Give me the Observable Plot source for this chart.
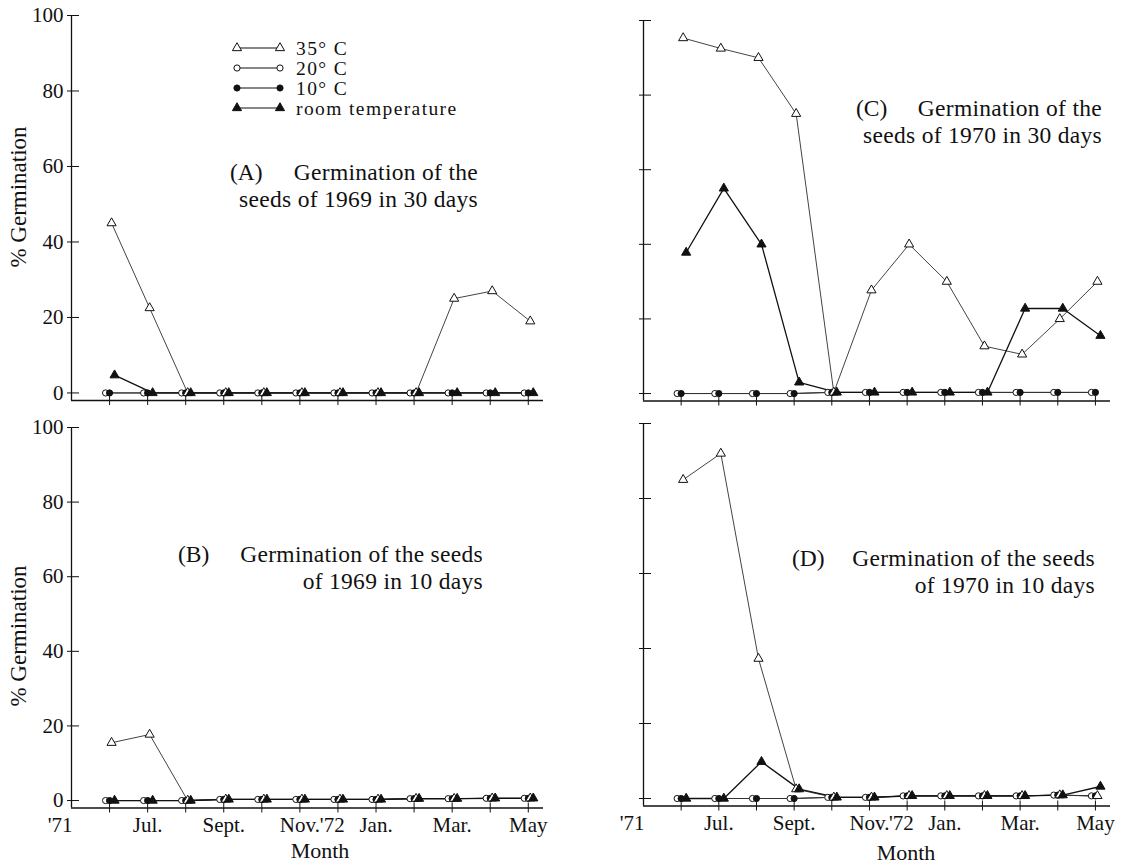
<!DOCTYPE html>
<html><head><meta charset="utf-8">
<script src="https://cdn.jsdelivr.net/npm/d3@7"></script>
<script src="https://cdn.jsdelivr.net/npm/@observablehq/plot@0.6"></script>
<style>
body{margin:0;background:#fff;}
#wrap{position:relative;width:1123px;height:865px;overflow:hidden;background:#fff;font-family:"Liberation Serif","Times New Roman",serif;}
.panel{position:absolute;}
#overlay{position:absolute;left:0;top:0;}
</style></head><body><div id="wrap"></div>
<script>
// Months: 1 = June '71 ... 12 = May '72 (0 = May '71 at the y axis)
const months = [1,2,3,4,5,6,7,8,9,10,11,12];
const tickLabels = ["'71","Jul.","Sept.","Nov.","'72","Jan.","Mar.","May"];
const tickLabelPos = [-0.3,2,4,6,6.85,8,10,12];
const yTicks = [0,20,40,60,80,100];
const seriesNames = ["35\u00B0 C","20\u00B0 C","10\u00B0 C","room temperature"];

// (A) seeds of 1969, 30 days
const a35  = [45, 22.5, 0, 0, 0, 0, 0, 0, 0, 25, 27, 19];
const a20  = [0, 0, 0, 0, 0, 0, 0, 0, 0, 0, 0, 0];
const a10  = [0, 0, 0, 0, 0, 0, 0, 0, 0, 0, 0, 0];
const aRoom= [4.7, 0, 0, 0, 0, 0, 0, 0, 0, 0, 0, 0];
// (B) seeds of 1969, 10 days
const b35  = [15.5, 17.7, 0, 0.3, 0.3, 0.3, 0.3, 0.3, 0.5, 0.5, 0.6, 0.6];
const b20  = [0, 0, 0, 0.3, 0.3, 0.3, 0.3, 0.3, 0.5, 0.5, 0.6, 0.6];
const b10  = [0, 0, 0, 0.3, 0.3, 0.3, 0.3, 0.3, 0.5, 0.5, 0.6, 0.6];
const bRoom= [0, 0, 0, 0.3, 0.3, 0.3, 0.3, 0.3, 0.5, 0.5, 0.6, 0.6];
// (C) seeds of 1970, 30 days
const c35  = [95.3, 92.5, 90, 75, 0.3, 27.7, 40, 30, 12.7, 10.5, 20, 30];
const c20  = [0, 0, 0, 0, 0.3, 0.3, 0.3, 0.3, 0.3, 0.3, 0.3, 0.3];
const c10  = [0, 0, 0, 0, 0.3, 0.3, 0.3, 0.3, 0.3, 0.3, 0.3, 0.3];
const cRoom= [37.8, 55, 40, 3, 0.3, 0.3, 0.3, 0.3, 0.3, 22.8, 22.8, 15.5];
// (D) seeds of 1970, 10 days
const d35  = [85, 92, 37.3, 2.5, 0.3, 0.3, 0.7, 0.7, 0.7, 0.7, 0.9, 0.7];
const d20  = [0, 0, 0, 0, 0.3, 0.3, 0.7, 0.7, 0.7, 0.7, 0.9, 0.7];
const d10  = [0, 0, 0, 0, 0.3, 0.3, 0.7, 0.7, 0.7, 0.7, 0.9, 0.7];
const dRoom= [0, 0, 9.8, 2.5, 0.3, 0.3, 0.7, 0.7, 0.7, 0.7, 0.9, 3.2];

const styles = [
  {key:"t35", symbol:"triangle", fill:"#fff", r:3.4, dx:2, line:"#444", lw:1},
  {key:"t20", symbol:"circle", fill:"#fff", r:3.1, dx:-4, line:"#333", lw:1},
  {key:"t10", symbol:"circle", fill:"#111", r:3.1, dx:0, line:"#333", lw:1},
  {key:"room", symbol:"triangle", fill:"#111", r:3.4, dx:5, line:"#111", lw:1.3}
];

const yMin = -2, xMin = 0, xMax = 12.4;
const font = '"Liberation Serif","Times New Roman",serif';

const panels = [
  {left:0, top:0, width:560, height:420, mt:15, mb:20, ml:71, mr:17, yLabels:true, xLabels:false,
   data:{t35:a35,t20:a20,t10:a10,room:aRoom}},
  {left:0, top:412, width:560, height:453, mt:15, mb:57.5, ml:71, mr:17, yLabels:true, xLabels:true,
   data:{t35:b35,t20:b20,t10:b10,room:bRoom}},
  {left:573, top:0, width:550, height:420, mt:20, mb:19.5, ml:70, mr:13, yLabels:false, xLabels:false,
   data:{t35:c35,t20:c20,t10:c10,room:cRoom}},
  {left:573, top:412, width:550, height:453, mt:11, mb:59.5, ml:70, mr:13, yLabels:false, xLabels:true,
   data:{t35:d35,t20:d20,t10:d10,room:dRoom}}
];

const wrap = document.getElementById("wrap");
const labelRows = tickLabels.map((label,i)=>({label, pos:tickLabelPos[i]}));

for (const p of panels) {
  const marks = [
    Plot.ruleX([xMin], {y1: yMin, y2: 100, stroke:"#111", strokeWidth:1.3}),
    Plot.ruleY([yMin], {x1: xMin, x2: xMax, stroke:"#111", strokeWidth:1.3}),
    Plot.axisY({ticks: yTicks, anchor:"left", label:null, tickSize: 4, tickPadding: 4,
      tickFormat: p.yLabels ? (d=>String(d)) : (()=> ""), fontSize: 21, stroke:"#111"}),
    Plot.axisY({ticks: yTicks, anchor:"left", label:null, tickSize: 8, dx: 8, tickFormat: ()=>"", stroke:"#111"}),
    Plot.axisX({ticks: months, anchor:"bottom", label:null, tickSize: 5, tickFormat: ()=>"", stroke:"#111"}),
    Plot.axisX({ticks: months, anchor:"bottom", label:null, tickSize: 5, dy: -5, tickFormat: ()=>"", stroke:"#111"})
  ];
  for (const s of styles) {
    const rows = months.map((m,i)=>({m, v:p.data[s.key][i]}));
    marks.push(Plot.line(rows, {x:"m", y:"v", dx:s.dx, stroke:s.line, strokeWidth:s.lw}));
  }
  for (const s of [styles[1], styles[2], styles[0], styles[3]]) {
    const rows = months.map((m,i)=>({m, v:p.data[s.key][i]}));
    marks.push(Plot.dot(rows, {x:"m", y:"v", dx:s.dx, symbol:s.symbol, r:s.r, fill:s.fill, stroke:"#111", strokeWidth:1}));
  }
  if (p.xLabels) {
    marks.push(Plot.text(labelRows, {x:"pos", text:"label", frameAnchor:"bottom", dy:24, lineAnchor:"bottom", fontSize:21, fill:"#111"}));
  }
  const chart = Plot.plot({
    width: p.width, height: p.height,
    marginTop: p.mt, marginBottom: p.mb, marginLeft: p.ml, marginRight: p.mr,
    x: {domain:[xMin, xMax], axis:null, label:null},
    y: {domain:[yMin, 100], axis:null, label:null},
    style: {fontFamily: font, fontSize:"21px", background:"transparent", color:"#111", overflow:"visible"},
    marks
  });
  chart.classList.add("panel");
  chart.style.left = p.left + "px";
  chart.style.top = p.top + "px";
  wrap.appendChild(chart);
}

// Overlay: legend, panel captions, axis titles
const svg = d3.select(wrap).append("svg").attr("id","overlay")
  .attr("width",1123).attr("height",865)
  .style("font-family", font).style("pointer-events","none");

// legend
const legRows = [48, 68, 88, 108];
styles.forEach((s,i)=>{
  const y = legRows[i];
  svg.append("line").attr("x1",237).attr("x2",280).attr("y1",y).attr("y2",y).attr("stroke","#111").attr("stroke-width",1.2);
  [237,280].forEach(x=>{
    if (s.symbol === "circle") {
      svg.append("circle").attr("cx",x).attr("cy",y).attr("r",3.1).attr("fill",s.fill).attr("stroke","#111");
    } else {
      svg.append("path").attr("d", d3.symbol(d3.symbolTriangle, Math.PI*3.4*3.4)()).attr("transform",`translate(${x},${y})`)
        .attr("fill",s.fill).attr("stroke","#111");
    }
  });
  svg.append("text").attr("x",296).attr("y",y+6.5).attr("font-size",19.5).attr("letter-spacing","1.4px")
    .attr("fill","#111").text(seriesNames[i]);
});

const captions = [
  {tag:"(A)", tagX:230, right:478, y1:180, lines:["Germination of the","seeds of 1969 in 30 days"]},
  {tag:"(B)", tagX:178, right:483, y1:562, lines:["Germination of the seeds","of 1969 in 10 days"]},
  {tag:"(C)", tagX:856, right:1102, y1:116, lines:["Germination of the","seeds of 1970 in 30 days"]},
  {tag:"(D)", tagX:792, right:1095, y1:566, lines:["Germination of the seeds","of 1970 in 10 days"]}
];
const capSize = 23.5, lineGap = 27;
captions.forEach(c=>{
  svg.append("text").attr("x",c.tagX).attr("y",c.y1).attr("font-size",capSize).attr("fill","#111").text(c.tag);
  c.lines.forEach((t,i)=>{
    svg.append("text").attr("x",c.right).attr("y",c.y1 + i*lineGap).attr("text-anchor","end")
      .attr("font-size",capSize).attr("letter-spacing","0.3px").attr("fill","#111").text(t);
  });
});

// y titles
[[26,197],[26,636]].forEach(([x,y])=>{
  svg.append("text").attr("transform",`translate(${x},${y}) rotate(-90)`).attr("text-anchor","middle")
    .attr("font-size",23).attr("fill","#111").text("% Germination");
});
// x titles
[[320,858],[906,860]].forEach(([x,y])=>{
  svg.append("text").attr("x",x).attr("y",y).attr("text-anchor","middle").attr("font-size",22).attr("fill","#111").text("Month");
});
</script></body></html>
